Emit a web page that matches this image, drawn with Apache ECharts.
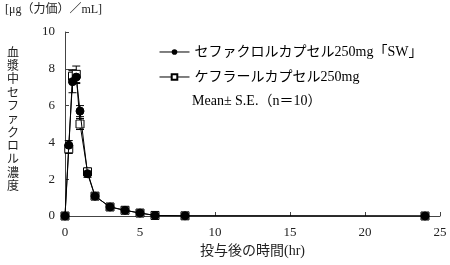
<!DOCTYPE html>
<html><head><meta charset="utf-8">
<script src="https://cdn.jsdelivr.net/npm/echarts@6/dist/echarts.min.js"></script>
<style>html,body{margin:0;padding:0;background:#fff}#c{width:450px;height:265px}</style>
</head><body><div id="c"></div>
<script>
var times = [0, 0.25, 0.5, 0.75, 1, 1.5, 2, 3, 4, 5, 6, 8, 24];
var swMean = [0, 3.85, 7.3, 7.55, 5.7, 2.3, 1.08, 0.49, 0.31, 0.16, 0.03, 0.01, 0];
var swSE   = [0, 0.25, 0.6, 0.35, 0.3, 0.2, 0.05, 0.04, 0.03, 0.02, 0, 0, 0];
var kfMean = [0, 3.65, 7.6, 7.7, 5.0, 2.4, 1.08, 0.49, 0.31, 0.16, 0.03, 0.01, 0];
var kfSE   = [0, 0.25, 0.35, 0.45, 0.3, 0.2, 0.05, 0.04, 0.03, 0.02, 0, 0, 0];
var xTicks = [0, 5, 10, 15, 20, 25];
var yTicks = [0, 2, 4, 6, 8, 10];
var legendNames = ['セファクロルカプセル250mg「SW」', 'ケフラールカプセル250mg'];
var noteText = 'Mean± S.E.（n＝10）';
var unitText = '[μg（力価）／mL]';
var yName = '血漿中セファクロル濃度';
var xName = '投与後の時間(hr)';

var FONT = '"Liberation Serif","Noto Sans CJK JP",serif';
function pairs(m){ return times.map(function(t,i){return [t,m[i]];}); }
function errData(m,s){ return times.map(function(t,i){return [t,m[i]-s[i],m[i]+s[i]];}).filter(function(d){return d[2]-d[1]>0.001;}); }
function errRender(params, api){
  var x = api.value(0), lo = api.value(1), hi = api.value(2);
  var p1 = api.coord([x, lo]), p2 = api.coord([x, hi]);
  var w = 4;
  var st = {stroke:'#000', lineWidth:1};
  return {type:'group', children:[
    {type:'line', shape:{x1:p1[0],y1:p1[1],x2:p2[0],y2:p2[1]}, style:st},
    {type:'line', shape:{x1:p1[0]-w,y1:p1[1],x2:p1[0]+w,y2:p1[1]}, style:st},
    {type:'line', shape:{x1:p2[0]-w,y1:p2[1],x2:p2[0]+w,y2:p2[1]}, style:st}
  ]};
}
var chart = echarts.init(document.getElementById('c'));
chart.setOption({
  animation:false,
  backgroundColor:'#fff',
  textStyle:{fontFamily:FONT},
  grid:{left:65, right:10, top:32, bottom:49, containLabel:false},
  legend:{
    orient:'vertical', left:154, top:40, itemGap:11, itemWidth:30, itemHeight:7,
    lineStyle:{width:1},
    data:[{name:legendNames[0]},{name:legendNames[1]}],
    textStyle:{fontFamily:FONT, fontSize:14, color:'#000'}
  },
  xAxis:{
    type:'value', min:0, max:25, interval:5,
    axisLine:{lineStyle:{color:'#444'}},
    axisTick:{inside:true, length:4, lineStyle:{color:'#444'}},
    axisLabel:{fontFamily:FONT, fontSize:13, color:'#222', margin:10,
      formatter:function(v){return xTicks.indexOf(v)>=0?String(v):'';}},
    splitLine:{show:false},
    name:xName, nameLocation:'middle', nameGap:27,
    nameTextStyle:{fontFamily:FONT, fontSize:14, color:'#222'}
  },
  yAxis:{
    type:'value', min:0, max:10, interval:2,
    axisLine:{show:true, lineStyle:{color:'#444'}},
    axisTick:{show:true, inside:true, length:4, lineStyle:{color:'#444'}},
    axisLabel:{fontFamily:FONT, fontSize:13, color:'#222', margin:10,
      formatter:function(v){return yTicks.indexOf(v)>=0?String(v):'';}},
    splitLine:{show:false}
  },
  graphic:[
    {type:'text', left:5, top:4, style:{text:unitText, font:'12px '+FONT, fill:'#222'}},
    {type:'text', left:7, top:47, style:{text:yName.split('').join('\n'), font:'12px '+FONT, fill:'#222', lineHeight:13.3}},
    {type:'text', left:192, top:94, style:{text:noteText, font:'14px '+FONT, fill:'#000'}}
  ],
  series:[
    {type:'custom', renderItem:errRender, data:errData(kfMean,kfSE), z:1, silent:true},
    {type:'custom', renderItem:errRender, data:errData(swMean,swSE), z:1, silent:true},
    {name:legendNames[1], type:'line', data:pairs(kfMean), symbol:'rect', symbolSize:8,
      itemStyle:{color:'#fff', borderColor:'#000', borderWidth:1},
      lineStyle:{color:'#000', width:1}, z:3},
    {name:legendNames[0], type:'line', data:pairs(swMean), symbol:'circle', symbolSize:8,
      itemStyle:{color:'#000', borderColor:'#000'},
      lineStyle:{color:'#000', width:1}, z:4}
  ]
});
</script></body></html>
